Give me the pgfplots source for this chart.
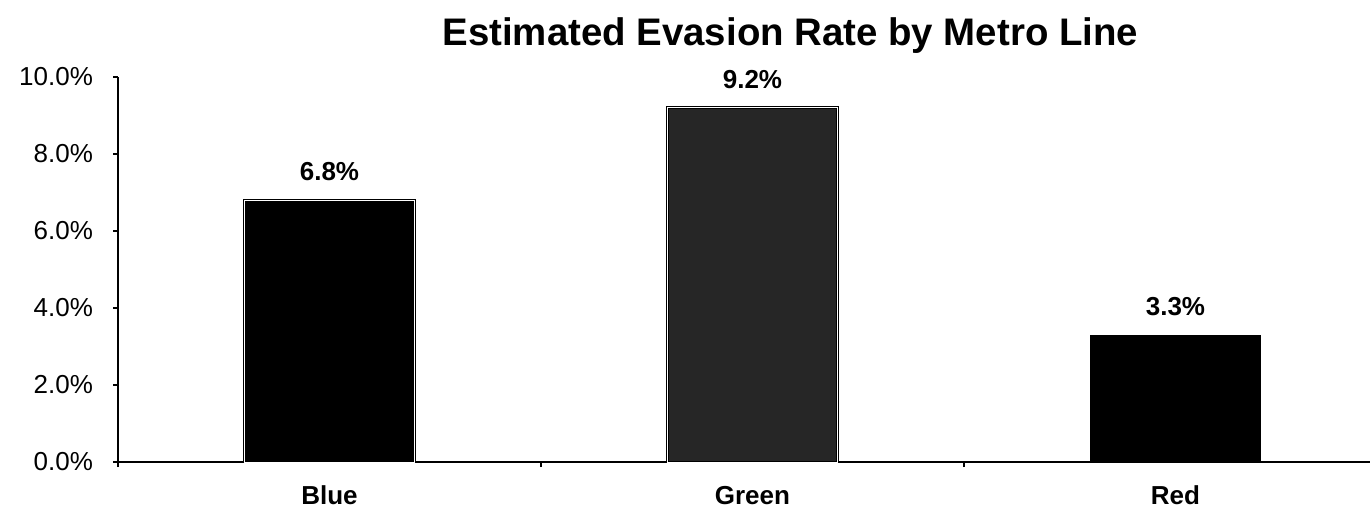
\documentclass[border=0pt]{standalone}
\usepackage{fontspec}
\setmainfont{Liberation Sans}
\usepackage{pgfplots}
\pgfplotsset{compat=1.18}
\begin{document}
\begin{tikzpicture}
\useasboundingbox (0,0) rectangle (685pt,255pt);
\begin{axis}[
  at={(59pt,24pt)}, anchor=south west,
  scale only axis, width=626pt, height=192.5pt,
  xmin=-0.5, xmax=2.46, ymin=0, ymax=10,
  axis lines*=left,
  axis line style={line width=1pt, black},
  /pgf/number format/assume math mode=true,
  tick align=outside,
  major tick length=2.5pt, minor tick length=2.5pt,
  tick style={black, line width=0.8pt},
  xtick={0,1,2}, xticklabels={Blue,Green,Red},
  major x tick style={draw=none},
  minor xtick={-0.5,0.5,1.5},
  xticklabel style={font=\bfseries\fontsize{13}{15}\selectfont, anchor=north, inner sep=0.8pt, text height=9.3pt, text depth=0pt, yshift=-8.5pt},
  ytick={0,2,4,6,8,10},
  yticklabel={\pgfmathprintnumber[fixed,fixed zerofill,precision=1]{\tick}\%},
  yticklabel style={font=\fontsize{13}{15}\selectfont, xshift=-6.5pt},
  title={Estimated Evasion Rate by Metro Line},
  title style={font=\bfseries\fontsize{19.2}{22}\selectfont, at={(0.537,1)}, anchor=center, yshift=14.5pt},
  nodes near coords={\pgfmathprintnumber[fixed,fixed zerofill,precision=1]{\pgfplotspointmeta}\%},
  every node near coord/.append style={text=black, font=\bfseries\fontsize{13}{15}\selectfont, yshift=6pt},
]
\addplot[ybar, bar width=0.4, bar shift=0pt, fill=black, draw=black, double=white, double distance=0.5pt, line width=0.5pt] coordinates {(0,6.8)};
\addplot[ybar, bar width=0.4, bar shift=0pt, fill=black!85, draw=black, double=white, double distance=0.5pt, line width=0.5pt] coordinates {(1,9.2)};
\addplot[ybar, bar width=0.4, bar shift=0pt, fill=black, draw=black] coordinates {(2,3.3)};
\end{axis}
\end{tikzpicture}
\end{document}
